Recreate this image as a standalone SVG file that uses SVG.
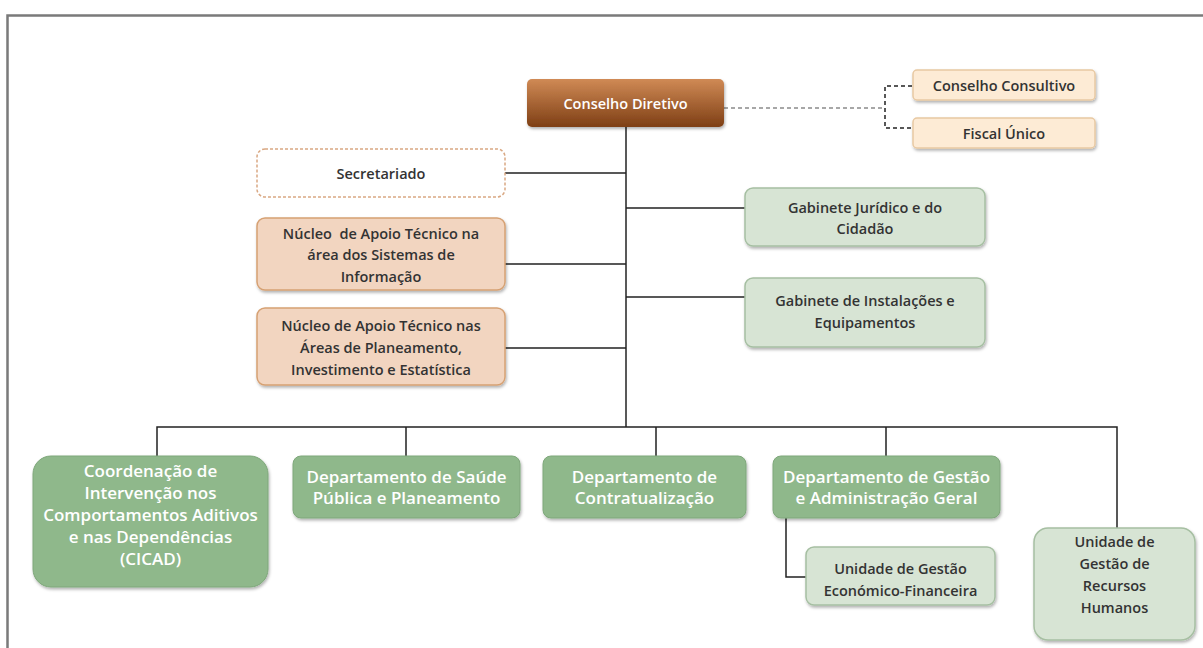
<svg xmlns="http://www.w3.org/2000/svg" width="1203" height="648" viewBox="0 0 1203 648">
<style>
.t{font-family:"Open Sans","Liberation Sans",sans-serif;font-weight:600;text-anchor:middle;dominant-baseline:central}
.s{font-size:14.5px;fill:#333}
.w{fill:#fff}
.b{font-size:17px}
.dk{fill:#8fb88b;stroke:#7ea77a;stroke-width:1}
.lt{fill:#d7e4d4;stroke:#a6bfa2;stroke-width:1.5}
.pc{fill:#f2d5c0;stroke:#d6a173;stroke-width:1.5}
.cr{fill:#fdebd5;stroke:#e8c9a2;stroke-width:1.5}
.ln{fill:none;stroke:#222;stroke-width:1.5}
</style>
<defs>
<linearGradient id="gb" x1="0" y1="0" x2="0" y2="1">
<stop offset="0" stop-color="#d08a55"/>
<stop offset="1" stop-color="#7e3f15"/>
</linearGradient>
<filter id="sh" x="-10%" y="-10%" width="120%" height="130%">
<feDropShadow dx="1" dy="2" stdDeviation="1.5" flood-color="#000" flood-opacity="0.3"/>
</filter>
</defs>
<rect x="0" y="0" width="1203" height="648" fill="#fff"/>
<path d="M7.5 648 V15.5 H1203" fill="none" stroke="#7a7a7a" stroke-width="2.5"/>
<g id="connectors">
<path class="ln" d="M626 127 V427"/>
<path class="ln" d="M505 173 H626 M505 264 H626 M505 348 H626 M626 208 H745 M626 297 H745"/>
<path class="ln" d="M157 456 V427 H1117 V528 M406 427 V456 M656 427 V456 M886 427 V456"/>
<path class="ln" d="M786 518 V577 H806"/>
<path d="M724 108 H885" fill="none" stroke="#8a8a8a" stroke-width="1.5" stroke-dasharray="4 3"/>
<path d="M912 86 H885 V128 H912" fill="none" stroke="#222" stroke-width="1.5" stroke-dasharray="4 3"/>
</g>
<g id="conselho-diretivo">
<rect x="527" y="79" width="197" height="48" rx="5" fill="url(#gb)" filter="url(#sh)"/>
<text class="t w" x="625.5" y="103" font-size="14.5">Conselho Diretivo</text>
</g>
<g id="conselho-consultivo">
<rect class="cr" x="913" y="70" width="182" height="30" rx="4" filter="url(#sh)"/>
<text class="t s" x="1004" y="85">Conselho Consultivo</text>
</g>
<g id="fiscal-unico">
<rect class="cr" x="913" y="118" width="182" height="30" rx="4" filter="url(#sh)"/>
<text class="t s" x="1004" y="133">Fiscal Único</text>
</g>
<g id="secretariado">
<rect x="257" y="149" width="248" height="48" rx="8" fill="#fff" stroke="#d9a883" stroke-width="1.5" stroke-dasharray="3 2"/>
<text class="t s" x="381" y="173">Secretariado</text>
</g>
<g id="nucleo-si">
<rect class="pc" x="257" y="218" width="248" height="72" rx="8" filter="url(#sh)"/>
<text class="t s" x="381" y="233">Núcleo&#160; de Apoio Técnico na</text>
<text class="t s" x="381" y="254">área dos Sistemas de</text>
<text class="t s" x="381" y="276">Informação</text>
</g>
<g id="nucleo-pie">
<rect class="pc" x="257" y="308" width="248" height="77" rx="8" filter="url(#sh)"/>
<text class="t s" x="381" y="325">Núcleo de Apoio Técnico nas</text>
<text class="t s" x="381" y="347">Áreas de Planeamento,</text>
<text class="t s" x="381" y="369">Investimento e Estatística</text>
</g>
<g id="gabinete-juridico">
<rect class="lt" x="745" y="188" width="240" height="58" rx="8" filter="url(#sh)"/>
<text class="t s" x="865" y="207">Gabinete Jurídico e do</text>
<text class="t s" x="865" y="228">Cidadão</text>
</g>
<g id="gabinete-instalacoes">
<rect class="lt" x="745" y="278" width="240" height="69" rx="8" filter="url(#sh)"/>
<text class="t s" x="865" y="300">Gabinete de Instalações e</text>
<text class="t s" x="865" y="322">Equipamentos</text>
</g>
<g id="cicad">
<rect class="dk" x="33" y="456" width="235" height="131" rx="18" filter="url(#sh)"/>
<text class="t w b" x="150.5" y="470">Coordenação de</text>
<text class="t w b" x="150.5" y="492">Intervenção nos</text>
<text class="t w b" x="150.5" y="514">Comportamentos Aditivos</text>
<text class="t w b" x="150.5" y="536">e nas Dependências</text>
<text class="t w b" x="150.5" y="558">(CICAD)</text>
</g>
<g id="dep-saude">
<rect class="dk" x="293" y="456" width="227" height="62" rx="8" filter="url(#sh)"/>
<text class="t w b" x="406.5" y="476">Departamento de Saúde</text>
<text class="t w b" x="406.5" y="497">Pública e Planeamento</text>
</g>
<g id="dep-contratualizacao">
<rect class="dk" x="543" y="456" width="203" height="62" rx="8" filter="url(#sh)"/>
<text class="t w b" x="644.5" y="476">Departamento de</text>
<text class="t w b" x="644.5" y="497">Contratualização</text>
</g>
<g id="dep-gestao">
<rect class="dk" x="773" y="456" width="227" height="62" rx="8" filter="url(#sh)"/>
<text class="t w b" x="886.5" y="476">Departamento de Gestão</text>
<text class="t w b" x="886.5" y="497">e Administração Geral</text>
</g>
<g id="unidade-gef">
<rect class="lt" x="806" y="547" width="189" height="58" rx="8" filter="url(#sh)"/>
<text class="t s" x="900.5" y="568">Unidade de Gestão</text>
<text class="t s" x="900.5" y="590">Económico-Financeira</text>
</g>
<g id="unidade-rh">
<rect class="lt" x="1034" y="528" width="161" height="112" rx="14" filter="url(#sh)"/>
<text class="t s" x="1114.5" y="541">Unidade de</text>
<text class="t s" x="1114.5" y="563">Gestão de</text>
<text class="t s" x="1114.5" y="585">Recursos</text>
<text class="t s" x="1114.5" y="607">Humanos</text>
</g>
</svg>
